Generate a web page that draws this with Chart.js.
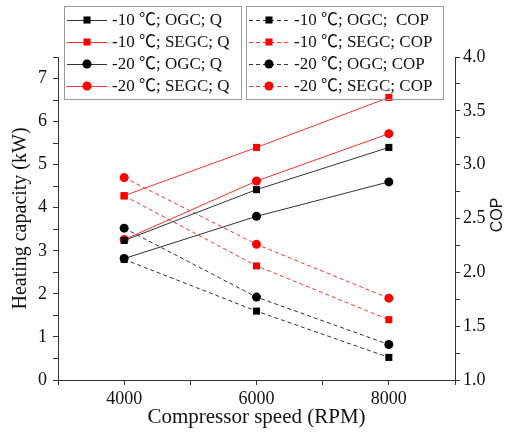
<!DOCTYPE html>
<html>
<head>
<meta charset="utf-8">
<script src="https://cdn.jsdelivr.net/npm/chart.js@4.4.1/dist/chart.umd.min.js"></script>
<style>
  html, body { margin: 0; padding: 0; background: #fff; }
  #wrap { width: 510px; height: 441px; position: relative; }
</style>
</head>
<body>
<div id="wrap"><canvas id="chart"></canvas></div>
<script>
// data
const rpm = [4000, 6000, 8000];
const xTickLabels = [4000, 6000, 8000];

const q10OGC = [3.24, 4.42, 5.40];
const q10SEGC = [4.28, 5.40, 6.56];
const q20OGC = [2.82, 3.80, 4.60];
const q20SEGC = [3.26, 4.62, 5.72];

const cop10OGC = [2.12, 1.64, 1.21];
const cop10SEGC = [2.71, 2.06, 1.56];
const cop20OGC = [2.41, 1.77, 1.33];
const cop20SEGC = [2.88, 2.26, 1.76];

const labelsQ = ["-10 ℃; OGC; Q", "-10 ℃; SEGC; Q", "-20 ℃; OGC; Q", "-20 ℃; SEGC; Q"];
const labelsCOP = ["-10 ℃; OGC;  COP", "-10 ℃; SEGC; COP", "-20 ℃; OGC; COP", "-20 ℃; SEGC; COP"];

const BLACK = "#000000";
const RED = "#ff0000";
const LINE_BLACK = "#333333";
const LINE_RED = "#ff3030";
const SERIF = "'Liberation Serif', 'Times New Roman', 'Noto Sans CJK SC', serif";

function pts(vals) {
  return vals.map((v, i) => ({ x: rpm[i], y: v }));
}

function makeSet(label, vals, color, lineColor, style, dashed, axis) {
  return {
    label: label,
    data: pts(vals),
    yAxisID: axis,
    borderColor: lineColor,
    borderWidth: 1,
    borderDash: dashed ? [4, 3] : [],
    backgroundColor: color,
    pointBackgroundColor: color,
    pointBorderColor: color,
    pointStyle: style,
    pointRadius: style === "rect" ? 5 : 4.5,
    pointBorderWidth: 0,
    tension: 0
  };
}

const datasets = [
  makeSet(labelsQ[0], q10OGC, BLACK, LINE_BLACK, "rect", false, "y"),
  makeSet(labelsQ[1], q10SEGC, RED, LINE_RED, "rect", false, "y"),
  makeSet(labelsQ[2], q20OGC, BLACK, LINE_BLACK, "circle", false, "y"),
  makeSet(labelsQ[3], q20SEGC, RED, LINE_RED, "circle", false, "y"),
  makeSet(labelsCOP[0], cop10OGC, BLACK, LINE_BLACK, "rect", true, "y1"),
  makeSet(labelsCOP[1], cop10SEGC, RED, LINE_RED, "rect", true, "y1"),
  makeSet(labelsCOP[2], cop20OGC, BLACK, LINE_BLACK, "circle", true, "y1"),
  makeSet(labelsCOP[3], cop20SEGC, RED, LINE_RED, "circle", true, "y1")
];

// two boxed legends + right axis title (reads bottom to top)
const figureExtras = {
  id: "figureExtras",
  afterDraw: chart => {
    const ctx = chart.ctx;
    const boxes = [
      { x: 64, w: 177, sets: [0, 1, 2, 3] },
      { x: 246, w: 197, sets: [4, 5, 6, 7] }
    ];
    const rowY = [20, 42, 64, 86];

    ctx.save();
    boxes.forEach(b => {
      ctx.strokeStyle = "#999";
      ctx.lineWidth = 1;
      ctx.setLineDash([]);
      ctx.strokeRect(b.x + 0.5, 6.5, b.w, 93);

      b.sets.forEach((di, r) => {
        const ds = chart.data.datasets[di];
        const y = rowY[r];
        const x0 = b.x + 3;
        ctx.beginPath();
        ctx.strokeStyle = ds.borderColor;
        ctx.lineWidth = 1;
        ctx.setLineDash(ds.borderDash);
        ctx.moveTo(x0, y + 0.5);
        ctx.lineTo(x0 + 40, y + 0.5);
        ctx.stroke();
        ctx.setLineDash([]);
        ctx.fillStyle = ds.pointBackgroundColor;
        Chart.helpers.drawPoint(ctx, {
          pointStyle: ds.pointStyle,
          radius: ds.pointStyle === "rect" ? 5 : 4.5,
          borderWidth: 0
        }, x0 + 20, y);

        ctx.fillStyle = "#111";
        ctx.font = "17px " + SERIF;
        ctx.textBaseline = "middle";
        ctx.textAlign = "left";
        ctx.fillText(ds.label, x0 + 45, y + 1);
      });
    });

    ctx.translate(498, 215);
    ctx.rotate(-Math.PI / 2);
    ctx.fillStyle = "#111";
    ctx.font = "16px 'Liberation Sans', Arial, sans-serif";
    ctx.textAlign = "center";
    ctx.textBaseline = "middle";
    ctx.fillText("COP", 0, 0);
    ctx.restore();
  }
};

const axisGrid = {
  drawOnChartArea: false,
  drawTicks: true,
  tickLength: 5,
  color: "#333"
};

new Chart(document.getElementById("chart"), {
  type: "line",
  data: { datasets: datasets },
  options: {
    responsive: true,
    maintainAspectRatio: false,
    animation: false,
    layout: { padding: { top: 57, left: 0, right: 0, bottom: 0 } },
    plugins: {
      legend: { display: false },
      tooltip: { enabled: false }
    },
    scales: {
      x: {
        type: "linear",
        position: "bottom",
        min: 3000,
        max: 9000,
        grid: axisGrid,
        border: { color: "#333", width: 1 },
        ticks: {
          stepSize: 1000,
          autoSkip: false,
          maxRotation: 0,
          padding: 3,
          color: "#111",
          font: { family: SERIF, size: 18 },
          callback: v => (xTickLabels.includes(v) ? String(v) : "")
        },
        title: {
          display: true,
          text: "Compressor speed (RPM)",
          color: "#111",
          font: { family: SERIF, size: 21 },
          padding: { top: 0, bottom: 11 }
        },
        afterFit: s => { s.height = 61; }
      },
      y: {
        type: "linear",
        position: "left",
        min: 0,
        max: 7.5,
        grid: axisGrid,
        border: { color: "#333", width: 1 },
        ticks: {
          stepSize: 0.5,
          autoSkip: false,
          padding: 6,
          color: "#111",
          font: { family: SERIF, size: 18 },
          callback: v => (Number.isInteger(v) ? String(v) : "")
        },
        title: {
          display: true,
          text: "Heating capacity (kW)",
          color: "#111",
          font: { family: SERIF, size: 20 },
          padding: { top: 9, bottom: 0 }
        },
        afterFit: s => { s.width = 58; }
      },
      y1: {
        type: "linear",
        position: "right",
        min: 1,
        max: 4,
        grid: axisGrid,
        border: { color: "#333", width: 1 },
        ticks: {
          stepSize: 0.25,
          autoSkip: false,
          padding: 3,
          color: "#111",
          font: { family: SERIF, size: 18 },
          callback: v => (Math.abs(v * 2 - Math.round(v * 2)) < 1e-6 ? v.toFixed(1) : "")
        },
        afterFit: s => { s.width = 55; }
      }
    }
  },
  plugins: [figureExtras]
});
</script>
</body>
</html>
